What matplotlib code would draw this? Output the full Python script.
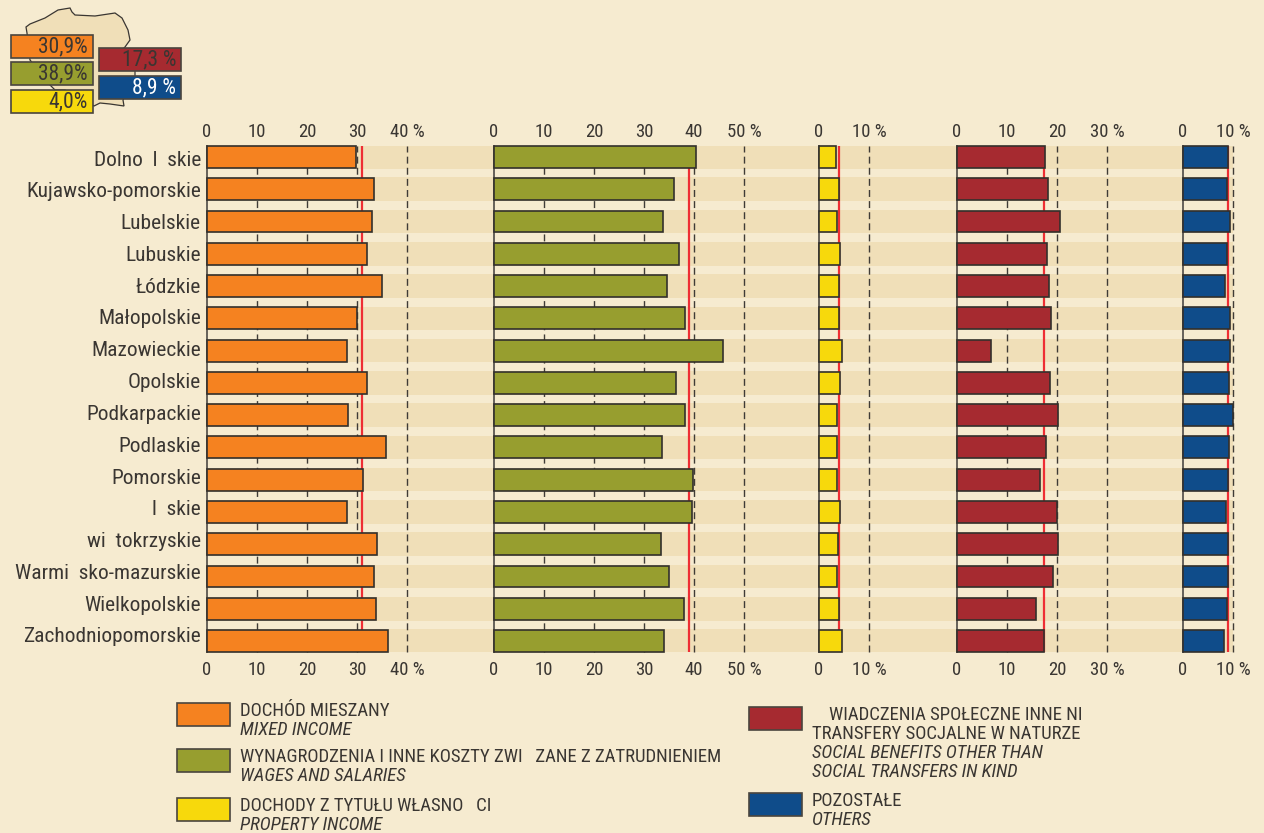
#!/usr/bin/env python3
"""Income structure by voivodeship: five horizontal bar panels with map inset."""
import matplotlib

matplotlib.use("Agg")
import matplotlib.pyplot as plt
from matplotlib.patches import Polygon, Rectangle

# ── Data ─────────────────────────────────────────────────────────────
regions = [
    "Dolno  l  skie", "Kujawsko-pomorskie", "Lubelskie", "Lubuskie", "Łódzkie",
    "Małopolskie", "Mazowieckie", "Opolskie", "Podkarpackie", "Podlaskie",
    "Pomorskie", "l  skie", "wi  tokrzyskie", "Warmi  sko-mazurskie",
    "Wielkopolskie", "Zachodniopomorskie",
]
mixed = [29.8, 33.3, 32.9, 32.0, 34.9, 30.0, 28.0, 32.0, 28.2, 35.8, 31.2, 28.0, 34.0, 33.3, 33.7, 36.1]
wages = [40.4, 35.9, 33.8, 37.0, 34.6, 38.1, 45.7, 36.4, 38.1, 33.6, 39.8, 39.6, 33.4, 35.0, 38.0, 34.0]
property_inc = [3.3, 3.9, 3.5, 4.1, 3.9, 4.0, 4.6, 4.1, 3.5, 3.5, 3.5, 4.1, 3.7, 3.6, 3.9, 4.6]
benefits = [17.6, 18.2, 20.5, 18.0, 18.4, 18.8, 6.8, 18.5, 20.2, 17.8, 16.6, 20.0, 20.2, 19.2, 15.8, 17.4]
others = [9.0, 8.8, 9.4, 8.8, 8.4, 9.4, 9.4, 9.1, 10.0, 9.2, 9.0, 8.6, 9.0, 9.0, 8.8, 8.2]

averages = [30.9, 38.9, 4.0, 17.3, 8.9]
avg_labels = ["30,9%", "38,9%", "4,0%", "17,3 %", "8,9 %"]
series = [mixed, wages, property_inc, benefits, others]
tick_sets = [
    [0, 10, 20, 30, 40],
    [0, 10, 20, 30, 40, 50],
    [0, 10],
    [0, 10, 20, 30],
    [0, 10],
]

legend_left = [
    ("DOCHÓD MIESZANY", "MIXED INCOME"),
    ("WYNAGRODZENIA I INNE KOSZTY ZWI   ZANE Z ZATRUDNIENIEM", "WAGES AND SALARIES"),
    ("DOCHODY Z TYTUŁU WŁASNO   CI", "PROPERTY INCOME"),
]
legend_right = [
    ("    WIADCZENIA SPOŁECZNE INNE NI\nTRANSFERY SOCJALNE W NATURZE",
     "SOCIAL BENEFITS OTHER THAN\nSOCIAL TRANSFERS IN KIND"),
    ("POZOSTAŁE", "OTHERS"),
]

# ── Style ────────────────────────────────────────────────────────────
W, H = 1264, 833
BG = "#f6ebd0"
BAND = "#f0dfb8"
INK = "#3a3632"
COLORS = ["#f58220", "#979e2f", "#f7d90c", "#a62a30", "#0f4c8a"]
AVG_RED = "#ee2e34"
PANEL_X = [207, 494, 819, 957, 1183]  # pixel of the zero line
PX_PER_UNIT = 5
TOP, BOTTOM = 146, 652

plt.rcParams["font.family"] = ["Roboto Condensed", "Liberation Sans Narrow", "Liberation Sans", "DejaVu Sans"]
plt.rcParams["text.color"] = INK

fig = plt.figure(figsize=(W / 100, H / 100), dpi=100, facecolor=BG)


def px_axes(x0, x1, y0, y1, **kw):
    return fig.add_axes([x0 / W, 1 - y1 / H, (x1 - x0) / W, (y1 - y0) / H], **kw)


rows = list(range(len(regions)))
ylim = (len(regions) - 1 + 0.34, -0.34)

# ── Background bands ──
ax_bg = px_axes(207, 1233, TOP, BOTTOM)
ax_bg.set_xlim(0, 1)
ax_bg.set_ylim(*ylim)
ax_bg.barh(rows, [1] * len(rows), height=0.73, color=BAND, lw=0)
ax_bg.axis("off")

# ── Bar panels ──
for i, (vals, ticks) in enumerate(zip(series, tick_sets)):
    x0 = PANEL_X[i]
    ax = px_axes(x0, x0 + ticks[-1] * PX_PER_UNIT, TOP, BOTTOM)
    ax.patch.set_alpha(0)
    ax.set_xlim(0, ticks[-1])
    ax.set_ylim(*ylim)
    for t in ticks[1:]:
        ax.axvline(t, color="#3f3b36", lw=1.0, dashes=(5, 3), zorder=1, clip_on=False)
    ax.axvline(0, color="#5a5650", lw=1.3, zorder=1, clip_on=False)
    ax.axvline(averages[i], color=AVG_RED, lw=1.6, zorder=2)
    ax.barh(rows, vals, height=0.68, color=COLORS[i], edgecolor="#33302c", lw=1.2,
            zorder=3, clip_on=False)
    for s in ax.spines.values():
        s.set_visible(False)
    tick_text = [f"{t} %" if t == ticks[-1] else str(t) for t in ticks]
    ax.set_xticks(ticks)
    ax.set_xticklabels(tick_text)
    ax.tick_params(axis="x", length=0, labelsize=13.5, pad=6.5, labelcolor=INK)
    ax.set_yticks([])
    # top labels sit closer to the bars than the bottom ones
    top_ax = ax.secondary_xaxis("top")
    top_ax.set_xticks(ticks)
    top_ax.set_xticklabels(tick_text)
    top_ax.tick_params(axis="x", length=0, labelsize=13.5, pad=3.5, labelcolor=INK)
    top_ax.spines["top"].set_visible(False)

# ── Overlay: map inset, region names and legend, in pixel coordinates ──
ov = px_axes(0, W, 0, H)
ov.patch.set_alpha(0)
ov.set_xlim(0, W)
ov.set_ylim(H, 0)
ov.axis("off")

for i, name in enumerate(regions):
    ov.text(201, 160 + 31.8 * i, name, ha="right", va="center", fontsize=15.4)

poland = [(27, 33), (26, 27), (30, 24), (45, 18), (58, 10), (70, 8), (72, 12), (75, 15),
          (95, 16), (115, 13), (122, 18), (128, 30), (130, 40), (125, 47), (122, 50),
          (135, 70), (135, 77), (123, 100), (124, 106), (110, 104), (100, 103), (94, 106),
          (65, 90), (55, 90), (50, 85), (30, 60)]
ov.add_patch(Polygon(poland, closed=True, facecolor=BAND, edgecolor="#3a3632", lw=0.9, zorder=1))

boxes = [(11, 35, 82, 23), (11, 62, 82, 23), (11, 90, 82, 23), (99, 48, 82, 23), (99, 76, 82, 23)]
for k, (bx, by, bw, bh) in enumerate(boxes):
    ov.add_patch(Rectangle((bx, by), bw, bh, facecolor=COLORS[k], edgecolor="#4a453e", lw=1.2, zorder=2))
    ov.text(bx + bw - 5, by + bh / 2 + 0.5, avg_labels[k], ha="right", va="center", fontsize=15.5,
            color="white" if k == 4 else INK, zorder=3)

for k, (pl, en), y in zip(range(3), legend_left, [703, 749, 798]):
    ov.add_patch(Rectangle((177, y), 53, 23, facecolor=COLORS[k], edgecolor="#4a453e", lw=1.2))
    ov.text(240, y + 8, pl, ha="left", va="center", fontsize=13.5)
    ov.text(240, y + 27, en, ha="left", va="center", fontsize=13.5, style="italic")

for k, (pl, en), y in zip([3, 4], legend_right, [707, 793]):
    ov.add_patch(Rectangle((749, y), 53, 23, facecolor=COLORS[k], edgecolor="#4a453e", lw=1.2))
    n = pl.count("\n") + 1
    ov.text(812, y + 8 + (n - 1) * 9.5, pl, ha="left", va="center", fontsize=13.5, linespacing=1.1)
    ov.text(812, y + 8 + (n - 1) * 28.5 + 19, en, ha="left", va="center", fontsize=13.5,
            style="italic", linespacing=1.1)

fig.savefig("out.png", dpi=100, facecolor=BG)
